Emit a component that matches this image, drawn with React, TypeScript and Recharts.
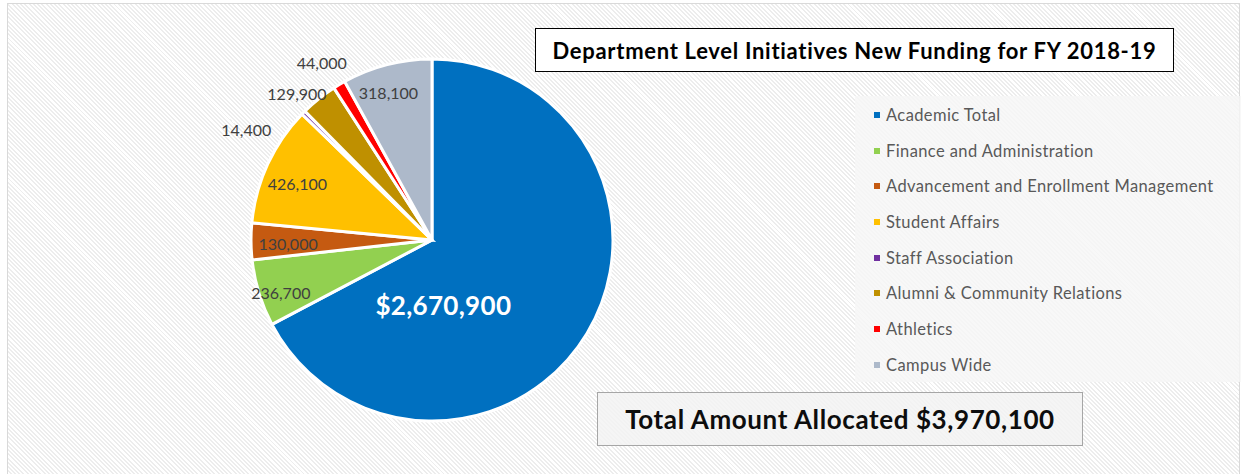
import React from 'react';
import { PieChart, Pie, Cell } from 'recharts';

const departments = [
	'Academic Total',
	'Finance and Administration',
	'Advancement and Enrollment Management',
	'Student Affairs',
	'Staff Association',
	'Alumni & Community Relations',
	'Athletics',
	'Campus Wide',
];
const funding = [2670900, 236700, 130000, 426100, 14400, 129900, 44000, 318100];
const colors = ['#0070C0', '#92D050', '#C55A11', '#FFC000', '#7030A0', '#BF9000', '#FF0000', '#ADB9CA'];

const chartTitle = 'Department Level Initiatives New Funding for FY 2018-19';
const totalText = 'Total Amount Allocated $3,970,100';

const data = departments.map((name, i) => ({ name, value: funding[i] }));

// label placement, Excel style: distance from centre and small angle nudge
const labelRadius = [66, 160, 144, 146, 216, 199, 209, 154];
const labelNudge = [-49, 2, 1, 2, 14, 4, 1, 2];

const FONT = 'Lato, "Open Sans", sans-serif';
const RAD = Math.PI / 180;

const fmt = (v: number) => v.toLocaleString('en-US');

const renderLabel = (props: any) => {
	const { cx, cy, midAngle, index, value } = props;
	const a = (midAngle + labelNudge[index]) * RAD;
	const x = cx + labelRadius[index] * Math.cos(a);
	const y = cy - labelRadius[index] * Math.sin(a);
	if (index === 0) {
		return (
			<text x={x} y={y} textAnchor="middle" dominantBaseline="central" fill="#ffffff" fontSize={26} fontWeight={700} letterSpacing={0.3} fontFamily={FONT}>
				${fmt(value)}
			</text>
		);
	}
	return (
		<text x={x} y={y} textAnchor="middle" dominantBaseline="central" fill="#404040" fontSize={16} fontFamily={FONT}>
			{fmt(value)}
		</text>
	);
};

const LegendBox = () => (
	<div
		style={{
			position: 'absolute',
			left: 847,
			top: 92,
			width: 386,
			height: 286,
			background: 'rgba(246,246,246,0.8)',
			boxSizing: 'border-box',
			paddingTop: 1,
			paddingLeft: 19,
			fontFamily: FONT,
		}}
	>
		{departments.map((d, i) => (
			<div key={d} style={{ height: 35.7, display: 'flex', alignItems: 'center', fontSize: 16.5, letterSpacing: 0.4, color: '#595959' }}>
				<span style={{ width: 6, height: 6, background: colors[i], marginRight: 6, display: 'inline-block' }} />
				{d}
			</div>
		))}
	</div>
);

export default function App() {
	return (
		<div
			style={{
				position: 'absolute',
				left: 7,
				top: 3,
				width: 1233,
				height: 472,
				border: '1px solid #d9d9d9',
				boxSizing: 'border-box',
				background: 'repeating-linear-gradient(45deg, #ffffff 0px, #ffffff 1.6px, #ededed 1.6px, #ededed 3px)',
			}}
		>
			<PieChart width={1231} height={470} style={{ position: 'absolute', left: 0, top: 0 }}>
				<Pie
					data={data}
					dataKey="value"
					nameKey="name"
					cx={419}
					cy={231}
					outerRadius={181}
					startAngle={90}
					endAngle={-270}
					stroke="#ffffff"
					strokeWidth={3}
					label={renderLabel}
					labelLine={false}
					isAnimationActive={false}
				>
					{data.map((d, i) => (
						<Cell key={d.name} fill={colors[i]} />
					))}
				</Pie>
			</PieChart>
			<div
				style={{
					position: 'absolute',
					left: 527,
					top: 24,
					width: 639,
					height: 44,
					background: '#fff',
					border: '1px solid #000',
					boxSizing: 'border-box',
					display: 'flex',
					alignItems: 'center',
					justifyContent: 'center',
					fontFamily: FONT,
					fontWeight: 700,
					fontSize: 22,
					letterSpacing: 0.7,
					color: '#000',
				}}
			>
				{chartTitle}
			</div>
			<LegendBox />
			<div
				style={{
					position: 'absolute',
					left: 589,
					top: 388,
					width: 486,
					height: 54,
					background: 'rgba(242,242,242,0.8)',
					border: '1px solid #a6a6a6',
					boxSizing: 'border-box',
					display: 'flex',
					alignItems: 'center',
					justifyContent: 'center',
					fontFamily: FONT,
					fontWeight: 700,
					fontSize: 26,
					letterSpacing: 0.6,
					color: '#0d0d0d',
				}}
			>
				{totalText}
			</div>
		</div>
	);
}
